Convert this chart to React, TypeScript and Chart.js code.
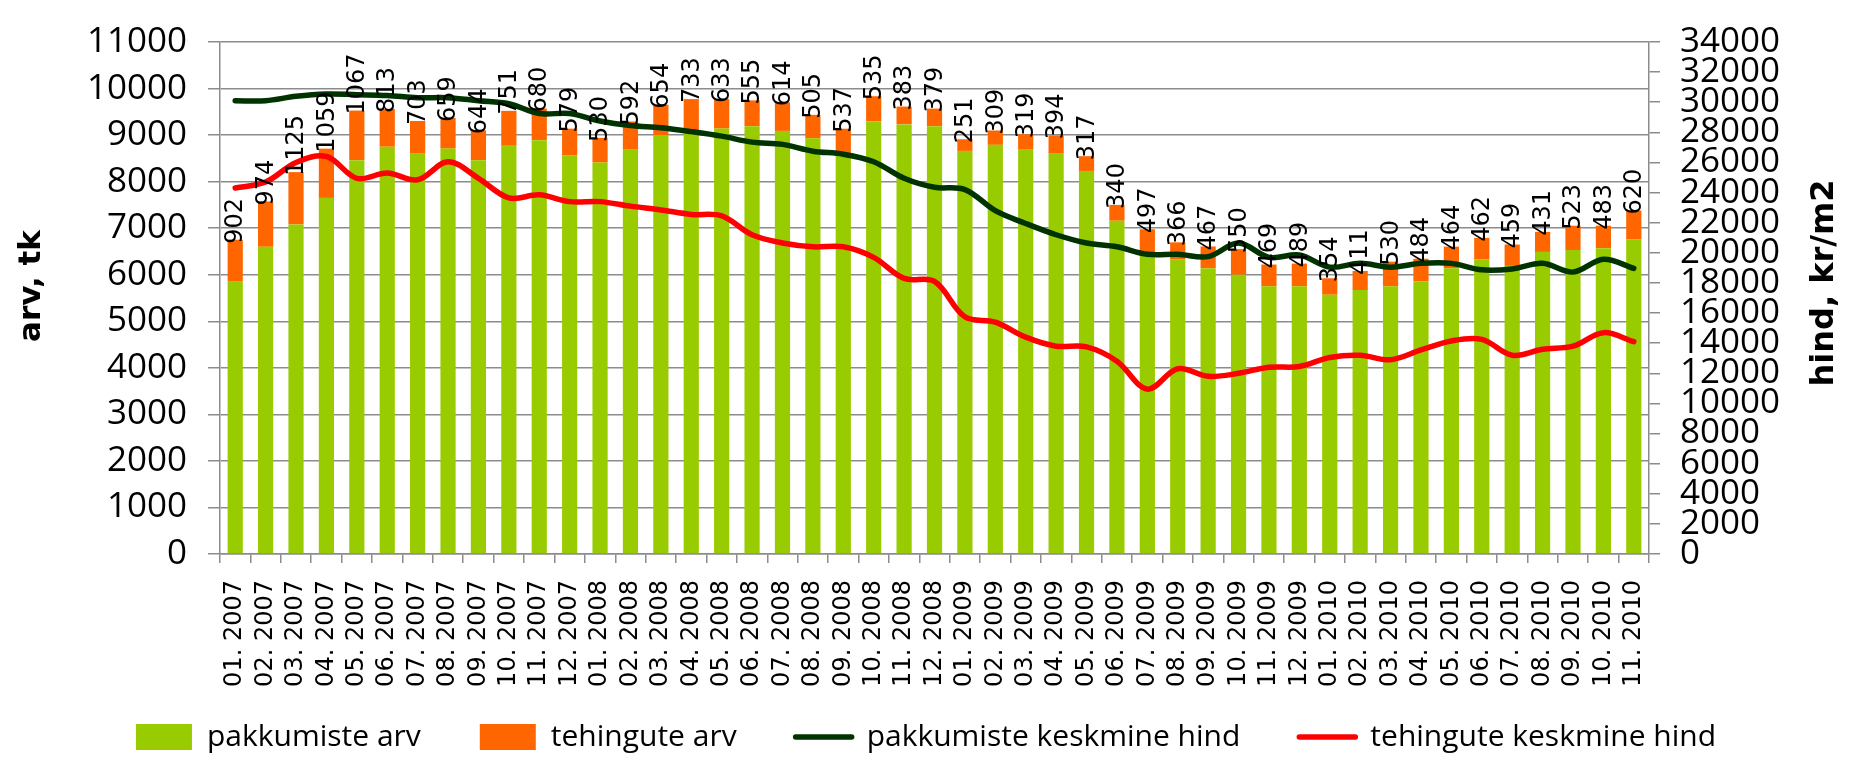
import React, { useEffect, useRef } from 'react';
import { Chart, registerables } from 'chart.js';

Chart.register(...registerables);

const months = [
  '01. 2007', '02. 2007', '03. 2007', '04. 2007', '05. 2007', '06. 2007', '07. 2007', '08. 2007', '09. 2007', '10. 2007', '11. 2007', '12. 2007',
  '01. 2008', '02. 2008', '03. 2008', '04. 2008', '05. 2008', '06. 2008', '07. 2008', '08. 2008', '09. 2008', '10. 2008', '11. 2008', '12. 2008',
  '01. 2009', '02. 2009', '03. 2009', '04. 2009', '05. 2009', '06. 2009', '07. 2009', '08. 2009', '09. 2009', '10. 2009', '11. 2009', '12. 2009',
  '01. 2010', '02. 2010', '03. 2010', '04. 2010', '05. 2010', '06. 2010', '07. 2010', '08. 2010', '09. 2010', '10. 2010', '11. 2010',
];

// pakkumiste arv (offers count)
const offersCount = [
  5850, 6600, 7080, 7650, 8460, 8750, 8600, 8710, 8460, 8770, 8890, 8560,
  8410, 8700, 9000, 9040, 9140, 9190, 9090, 8930, 8600, 9300, 9230, 9190,
  8660, 8790, 8700, 8600, 8230, 7160, 6480, 6330, 6140, 6000, 5750, 5750,
  5570, 5670, 5750, 5860, 6140, 6330, 6190, 6490, 6530, 6570, 6760,
];

// tehingute arv (deals count)
const dealsCount = [
  902, 974, 1125, 1059, 1067, 813, 703, 659, 644, 751, 680, 579,
  530, 592, 654, 733, 633, 555, 614, 505, 537, 535, 383, 379,
  251, 309, 319, 394, 317, 340, 497, 366, 467, 550, 469, 489,
  354, 411, 530, 484, 464, 462, 459, 431, 523, 483, 620,
];

// pakkumiste keskmine hind (offers average price, kr/m2)
const offersPrice = [
  30100, 30100, 30400, 30550, 30500, 30450, 30300, 30300, 30100, 29900, 29250, 29250,
  28750, 28450, 28300, 28050, 27750, 27350, 27200, 26750, 26550, 26050, 24950, 24350,
  24200, 22800, 21950, 21200, 20650, 20400, 19900, 19900, 19750, 20650, 19700, 19850,
  19050, 19300, 19050, 19300, 19300, 18870, 18930, 19300, 18720, 19570, 18970,
];

// tehingute keskmine hind (deals average price, kr/m2)
const dealsPrice = [
  24300, 24700, 26000, 26400, 24950, 25300, 24850, 26050, 24950, 23650, 23850, 23400,
  23400, 23100, 22850, 22550, 22450, 21200, 20650, 20400, 20400, 19700, 18300, 18100,
  15750, 15400, 14400, 13800, 13750, 12800, 10950, 12300, 11800, 12000, 12400, 12450,
  13050, 13200, 12900, 13550, 14150, 14250, 13200, 13600, 13800, 14700, 14100,
];

const countAxis = { min: 0, max: 11000, step: 1000, title: 'arv, tk' };
const priceAxis = { min: 0, max: 34000, step: 2000, title: 'hind, kr/m2' };

const seriesNames = ['pakkumiste arv', 'tehingute arv', 'pakkumiste keskmine hind', 'tehingute keskmine hind'];
const seriesColors = ['#99CC00', '#FF6600', '#003300', '#FF0000'];

const GRID = '#8c8c8c';

const overlayPlugin = {
  id: 'overlay',
  afterDatasetsDraw(chart: any) {
    const ctx = chart.ctx;
    const meta = chart.getDatasetMeta(1);
    ctx.save();
    ctx.font = '24px "DejaVu Sans"';
    ctx.fillStyle = '#000';
    ctx.textAlign = 'left';
    ctx.textBaseline = 'middle';
    meta.data.forEach((el: any, i: number) => {
      ctx.save();
      ctx.translate(el.x + 1, el.y + 4);
      ctx.rotate(-Math.PI / 2);
      ctx.fillText(String(dealsCount[i]), 0, 0);
      ctx.restore();
    });
    ctx.restore();
  },
  afterDraw(chart: any) {
    const ctx = chart.ctx;
    const area = chart.chartArea;
    const cy = (area.top + area.bottom) / 2;
    ctx.save();
    ctx.fillStyle = '#000';
    ctx.textAlign = 'center';
    ctx.textBaseline = 'middle';
    ctx.font = 'bold 31px "DejaVu Sans"';
    ctx.save();
    ctx.translate(32, cy - 12);
    ctx.rotate(-Math.PI / 2);
    ctx.fillText(countAxis.title, 0, 0);
    ctx.restore();
    ctx.font = 'bold 32px "DejaVu Sans"';
    ctx.save();
    ctx.translate(1825, cy - 15);
    ctx.rotate(-Math.PI / 2);
    ctx.fillText(priceAxis.title, 0, 0);
    ctx.restore();
    ctx.restore();
  },
};

export default function App() {
  const ref = useRef<HTMLCanvasElement>(null);

  useEffect(() => {
    document.body.style.margin = '0';
    const canvas = ref.current;
    if (!canvas) return;

    const chart = new Chart(canvas, {
      type: 'bar',
      data: {
        labels: months,
        datasets: [
          {
            type: 'bar',
            label: seriesNames[0],
            data: offersCount,
            backgroundColor: seriesColors[0],
            borderWidth: 0,
            yAxisID: 'y',
            order: 2,
            barPercentage: 0.5,
            categoryPercentage: 1.0,
          },
          {
            type: 'bar',
            label: seriesNames[1],
            data: dealsCount,
            backgroundColor: seriesColors[1],
            borderWidth: 0,
            yAxisID: 'y',
            order: 2,
            barPercentage: 0.5,
            categoryPercentage: 1.0,
          },
          {
            type: 'line',
            label: seriesNames[2],
            data: offersPrice,
            borderColor: seriesColors[2],
            backgroundColor: seriesColors[2],
            borderWidth: 5.5,
            pointRadius: 0,
            tension: 0.35,
            fill: false,
            borderCapStyle: 'round',
            borderJoinStyle: 'round',
            yAxisID: 'y1',
            order: 1,
          },
          {
            type: 'line',
            label: seriesNames[3],
            data: dealsPrice,
            borderColor: seriesColors[3],
            backgroundColor: seriesColors[3],
            borderWidth: 5.5,
            pointRadius: 0,
            tension: 0.35,
            fill: false,
            borderCapStyle: 'round',
            borderJoinStyle: 'round',
            yAxisID: 'y1',
            order: 0,
          },
        ],
      } as any,
      options: {
        responsive: false,
        animation: false,
        devicePixelRatio: 1,
        layout: { padding: { top: 26, left: 0, right: 0, bottom: -5 } },
        plugins: {
          tooltip: { enabled: false },
          title: { display: false },
          legend: {
            display: true,
            position: 'bottom',
            labels: {
              usePointStyle: true,
              pointStyleWidth: 56,
              boxHeight: 26,
              padding: 59,
              color: '#000',
              font: { family: 'Open Sans', size: 30 },
              generateLabels: (c: any) =>
                c.data.datasets.map((ds: any, i: number) => {
                  const isLine = ds.type === 'line';
                  return {
                    text: ds.label,
                    fillStyle: isLine ? ds.borderColor : ds.backgroundColor,
                    strokeStyle: isLine ? ds.borderColor : ds.backgroundColor,
                    lineWidth: isLine ? 5.5 : 0,
                    lineCap: 'round',
                    pointStyle: isLine ? 'line' : 'rect',
                    hidden: false,
                    datasetIndex: i,
                    fontColor: '#000',
                  };
                }),
            },
          },
        },
        scales: {
          x: {
            stacked: true,
            offset: true,
            grid: {
              display: true,
              drawOnChartArea: false,
              drawTicks: true,
              tickLength: 9,
              color: GRID,
              lineWidth: 1.5,
              offset: true,
            },
            border: { display: true, color: GRID, width: 1.5 },
            ticks: {
              autoSkip: false,
              maxRotation: 90,
              minRotation: 90,
              padding: 17,
              color: '#000',
              font: { family: 'DejaVu Sans', size: 24 },
            },
            afterFit: (s: any) => {
              s.height = 109;
              // let the rotated month labels extend below the squeezed axis box
              s._computeLabelArea = () => undefined;
            },
          },
          y: {
            position: 'left',
            stacked: true,
            min: countAxis.min,
            max: countAxis.max,
            ticks: {
              stepSize: countAxis.step,
              autoSkip: false,
              padding: 21,
              color: '#000',
              font: { family: 'Open Sans', size: 35 },
              callback: (v: any) => String(v),
            },
            grid: { color: GRID, lineWidth: 1.5, tickLength: 12 },
            border: { display: true, color: GRID, width: 1.5 },
            afterFit: (s: any) => {
              s.width = 220;
            },
          },
          y1: {
            position: 'right',
            min: priceAxis.min,
            max: priceAxis.max,
            ticks: {
              stepSize: priceAxis.step,
              autoSkip: false,
              padding: 20,
              color: '#000',
              font: { family: 'Open Sans', size: 35 },
              callback: (v: any) => String(v),
            },
            grid: { drawOnChartArea: false, tickLength: 11, color: GRID, lineWidth: 1.5 },
            border: { display: true, color: GRID, width: 1.5 },
            afterFit: (s: any) => {
              s.width = 1852 - 1649;
            },
          },
        },
      } as any,
      plugins: [overlayPlugin],
    });

    return () => chart.destroy();
  }, []);

  return (
    <canvas
      ref={ref}
      width={1852}
      height={757}
      style={{ display: 'block', width: '1852px', height: '757px' }}
    />
  );
}
